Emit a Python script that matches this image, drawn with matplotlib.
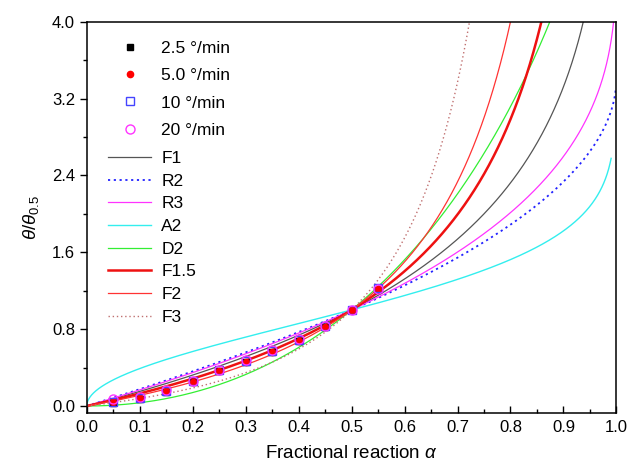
import numpy as np
import matplotlib
matplotlib.use("Agg")
import matplotlib.pyplot as plt

plt.rcParams['font.family'] = ['Liberation Sans', 'DejaVu Sans']
plt.rcParams['mathtext.fontset'] = 'custom'
plt.rcParams['mathtext.rm'] = 'Liberation Sans'
plt.rcParams['mathtext.it'] = 'Liberation Sans:italic'

# experimental data (theta/theta_0.5 vs alpha)
alpha_exp = [0.05, 0.10, 0.15, 0.20, 0.25, 0.30, 0.35, 0.40, 0.45, 0.50, 0.55]
y_2p5 = [0.035, 0.075, 0.15, 0.245, 0.36, 0.455, 0.56, 0.675, 0.82, 1.0, 1.21]
y_5p0 = [0.04, 0.08, 0.155, 0.25, 0.365, 0.46, 0.565, 0.68, 0.82, 1.0, 1.22]
y_10 = [0.045, 0.085, 0.16, 0.26, 0.37, 0.47, 0.575, 0.69, 0.83, 1.0, 1.23]
y_20 = [0.07, 0.09, 0.165, 0.26, 0.375, 0.475, 0.58, 0.695, 0.835, 1.0, 1.22]
exp_labels = ["2.5 °/min", "5.0 °/min", "10 °/min", "20 °/min"]

# kinetic model integral functions g(alpha)
models = {
    "F1": lambda a: -np.log(1 - a),
    "R2": lambda a: 1 - (1 - a) ** 0.5,
    "R3": lambda a: 1 - (1 - a) ** (1 / 3),
    "A2": lambda a: (-np.log(1 - a)) ** 0.5,
    "D2": lambda a: (1 - a) * np.log(1 - a) + a,
    "F1.5": lambda a: 2 * ((1 - a) ** -0.5 - 1),
    "F2": lambda a: (1 - a) ** -1 - 1,
    "F3": lambda a: 0.5 * ((1 - a) ** -2 - 1),
}
alpha_end = {"F1": 0.999, "R2": 0.999, "R3": 0.999, "A2": 0.99, "D2": 0.999,
             "F1.5": 0.999, "F2": 0.999, "F3": 0.999}
styles = {
    "F1": dict(color="#555555", lw=0.9, ls="-"),
    "R2": dict(color="#2222ff", lw=1.3, ls=(0, (1.2, 2.0))),
    "R3": dict(color="#ff33ff", lw=0.9, ls="-"),
    "A2": dict(color="#33eeee", lw=1.0, ls="-"),
    "D2": dict(color="#33ee33", lw=0.9, ls="-"),
    "F1.5": dict(color="#ee1111", lw=1.8, ls="-"),
    "F2": dict(color="#ff3333", lw=0.9, ls="-"),
    "F3": dict(color="#c07070", lw=1.0, ls=(0, (1, 2))),
}

fig = plt.figure(figsize=(6.29, 4.67), dpi=100)
ax = fig.add_axes([0.138, 0.1156, 0.842, 0.838])

line_handles = []
for name, g in models.items():
    a = np.linspace(0.0005, alpha_end[name], 3000)
    a = np.concatenate([[0.0], a])
    with np.errstate(divide="ignore", invalid="ignore"):
        y = g(a) / g(0.5)
    y[0] = 0.0
    h, = ax.plot(a, y, label=name, **styles[name], zorder=2)
    line_handles.append(h)

mk = []
mk.append(ax.plot(alpha_exp, y_2p5, ls="none", marker="s", ms=4.5, mfc="black", mec="black", zorder=3)[0])
mk.append(ax.plot(alpha_exp, y_5p0, ls="none", marker="o", ms=4.5, mfc="red", mec="red", zorder=3)[0])
mk.append(ax.plot(alpha_exp, y_10, ls="none", marker="s", ms=6, mfc="none", mec="#4444ff", mew=1.0, zorder=4)[0])
mk.append(ax.plot(alpha_exp, y_20, ls="none", marker="o", ms=6.5, mfc="none", mec="#ff33ff", mew=1.0, zorder=4)[0])

ax.set_xlim(0, 1.0)
ax.set_ylim(-0.073, 4.0)
ax.set_xticks(np.arange(0, 1.01, 0.1))
ax.set_xticks(np.arange(0.05, 1.0, 0.1), minor=True)
ax.set_yticks([0.0, 0.8, 1.6, 2.4, 3.2, 4.0])
ax.set_yticks([0.4, 1.2, 2.0, 2.8, 3.6], minor=True)
ax.xaxis.set_major_formatter(matplotlib.ticker.FormatStrFormatter("%.1f"))
ax.yaxis.set_major_formatter(matplotlib.ticker.FormatStrFormatter("%.1f"))
ax.tick_params(axis="x", which="major", direction="in", length=5, width=1, labelsize=12, pad=5)
ax.tick_params(axis="x", which="minor", direction="in", length=3, width=1)
ax.tick_params(axis="y", which="major", direction="out", length=5, width=1, labelsize=12)
ax.tick_params(axis="y", which="minor", direction="out", length=3, width=1)
for s in ax.spines.values():
    s.set_linewidth(1.1)

ax.set_xlabel(r"Fractional reaction $\alpha$", fontsize=13.5, labelpad=7)
ax.set_ylabel(r"$\theta/\theta_{\mathrm{0.5}}$", fontsize=13.5, labelpad=8)

leg1 = ax.legend(mk, exp_labels, loc="upper left", bbox_to_anchor=(0.027, 0.969),
                 frameon=False, fontsize=12.5, handlelength=2.5, handletextpad=0.55,
                 labelspacing=0.7, borderaxespad=0.0)
ax.add_artist(leg1)
ax.legend(line_handles, list(models.keys()), loc="upper left", bbox_to_anchor=(0.027, 0.687),
          frameon=False, fontsize=12.5, handlelength=2.5, handletextpad=0.57,
          labelspacing=0.43, borderaxespad=0.0)

fig.savefig("out.png", dpi=100)
